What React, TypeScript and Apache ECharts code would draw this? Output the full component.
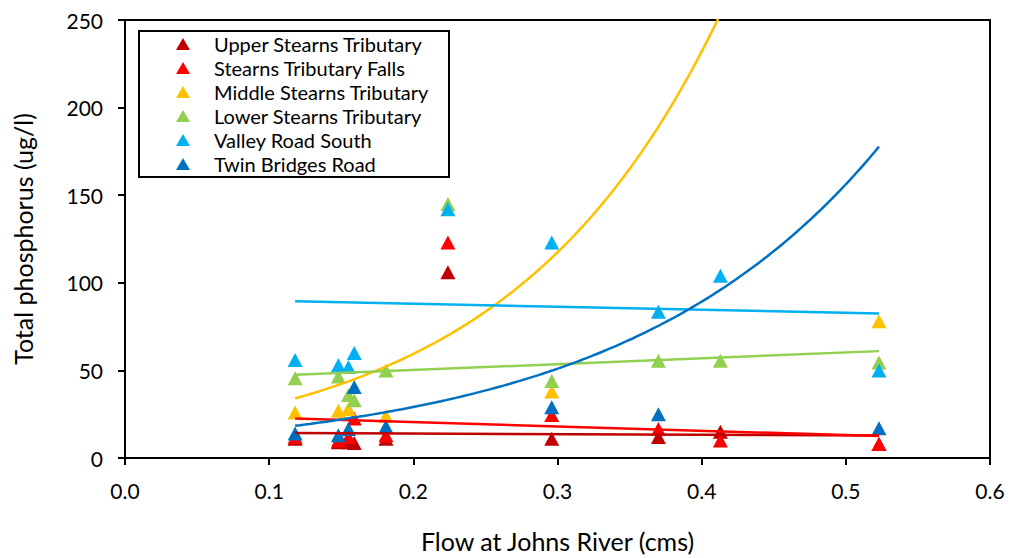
import React, { useEffect, useRef } from "react";
import * as echarts from "echarts";

// Flow at Johns River (cms) for each sampling event
const flows = [0.118, 0.148, 0.155, 0.159, 0.181, 0.224, 0.296, 0.37, 0.413, 0.523];

const seriesNames = [
  "Upper Stearns Tributary",
  "Stearns Tributary Falls",
  "Middle Stearns Tributary",
  "Lower Stearns Tributary",
  "Valley Road South",
  "Twin Bridges Road",
];
const seriesColors = ["#C00000", "#FF0000", "#FFC000", "#92D050", "#00B0F0", "#0070C0"];

// Total phosphorus (ug/l); null = not visible in the plot
const upperStearns = [11, 9, 9, 8.5, 11, 106, 11, 12, 15, 8];
const stearnsFalls = [12, 10, 12, 22.5, 13, 123, 24.5, 16.5, 10, 8];
const middleStearns = [26, 27, 28, null, 24, null, 38, null, null, 78];
const lowerStearns = [45.5, 46.5, 36, 33, 50, 145, 44, 55.5, 55.5, 54.5];
const valleyRoad = [56, 53, 52, 60, null, 142, 123, 83.5, 104, 50];
const twinBridges = [14, 13, 16.5, 40.5, 18, null, 29, 25, null, 17];

const seriesValues = [upperStearns, stearnsFalls, middleStearns, lowerStearns, valleyRoad, twinBridges];

// Trendlines: linear y = A + B*x, exponential y = A*exp(B*x)
const trendKind = ["linear", "linear", "exp", "linear", "linear", "exp"];
const trendA = [14.61, 25.41, 15.22, 43.57, 91.54, 9.5];
const trendB = [-3.457, -24.69, 6.81, 33.33, -17.28, 5.6];
const trendRange = [0.118, 0.523];

const xTicks = { min: 0, max: 0.6, interval: 0.1 };
const yTicks = { min: 0, max: 250, interval: 50 };

const FONT = "Lato";

function trendPoints(i: number): number[][] {
  const [x0, x1] = trendRange;
  const n = trendKind[i] === "linear" ? 1 : 120;
  const pts: number[][] = [];
  for (let k = 0; k <= n; k++) {
    const x = x0 + ((x1 - x0) * k) / n;
    const y = trendKind[i] === "linear" ? trendA[i] + trendB[i] * x : trendA[i] * Math.exp(trendB[i] * x);
    pts.push([x, y]);
  }
  return pts;
}

export default function App() {
  const ref = useRef<HTMLDivElement>(null);
  useEffect(() => {
    if (!ref.current) return;
    const chart = echarts.init(ref.current, undefined, { renderer: "svg" });
    const scatterSeries = seriesNames.map((name, i) => ({
      name,
      type: "scatter",
      symbol: "triangle",
      symbolSize: [15, 14],
      itemStyle: { color: seriesColors[i], opacity: 1 },
      data: flows
        .map((x, j) => [x, seriesValues[i][j]])
        .filter((p) => p[1] !== null && p[1] !== undefined),
      z: 2,
    }));
    const trendSeries = seriesNames.map((name, i) => ({
      name: name + " trend",
      type: "line",
      showSymbol: false,
      symbol: "none",
      smooth: false,
      clip: true,
      silent: true,
      lineStyle: { color: seriesColors[i], width: 2.5 },
      itemStyle: { color: seriesColors[i] },
      data: trendPoints(i),
      z: 3,
    }));
    chart.setOption({
      animation: false,
      backgroundColor: "#fff",
      textStyle: { fontFamily: FONT },
      grid: {
        left: 125,
        right: 21,
        top: 20,
        bottom: 98,
        show: true,
        borderColor: "#000",
        borderWidth: 2,
        containLabel: false,
      },
      legend: {
        data: seriesNames,
        orient: "vertical",
        left: 139,
        top: 31,
        icon: "triangle",
        itemWidth: 14,
        itemHeight: 12,
        itemGap: 4,
        padding: [3, 20, 3, 37],
        borderColor: "#000",
        borderWidth: 2,
        backgroundColor: "#fff",
        textStyle: {
          fontFamily: FONT,
          fontSize: 20,
          color: "#000",
          lineHeight: 20,
          padding: [0, 0, 0, 19],
        },
      },
      xAxis: {
        type: "value",
        min: xTicks.min,
        max: xTicks.max,
        interval: xTicks.interval,
        name: "Flow at Johns River (cms)",
        nameLocation: "middle",
        nameGap: 70,
        nameTextStyle: { fontFamily: FONT, fontSize: 25, color: "#000", verticalAlign: "top" },
        axisLine: { show: true, lineStyle: { color: "#000", width: 2 } },
        axisTick: { show: true, inside: false, length: 7, lineStyle: { color: "#000", width: 2 } },
        axisLabel: {
          fontFamily: FONT,
          fontSize: 21,
          color: "#000",
          margin: 22,
          formatter: (v: number) => v.toFixed(1),
        },
        splitLine: { show: false },
      },
      yAxis: {
        type: "value",
        min: yTicks.min,
        max: yTicks.max,
        interval: yTicks.interval,
        name: "Total phosphorus (ug/l)",
        nameLocation: "middle",
        nameGap: 90,
        nameRotate: 90,
        nameTextStyle: { fontFamily: FONT, fontSize: 25, color: "#000" },
        axisLine: { show: true, lineStyle: { color: "#000", width: 2 } },
        axisTick: { show: true, inside: false, length: 7, lineStyle: { color: "#000", width: 2 } },
        axisLabel: { fontFamily: FONT, fontSize: 21, color: "#000", margin: 22 },
        splitLine: { show: false },
      },
      series: [...scatterSeries, ...trendSeries],
    });
    return () => chart.dispose();
  }, []);
  return (
    <div
      ref={ref}
      style={{ position: "absolute", left: 0, top: 0, width: 1011, height: 558 }}
    />
  );
}
